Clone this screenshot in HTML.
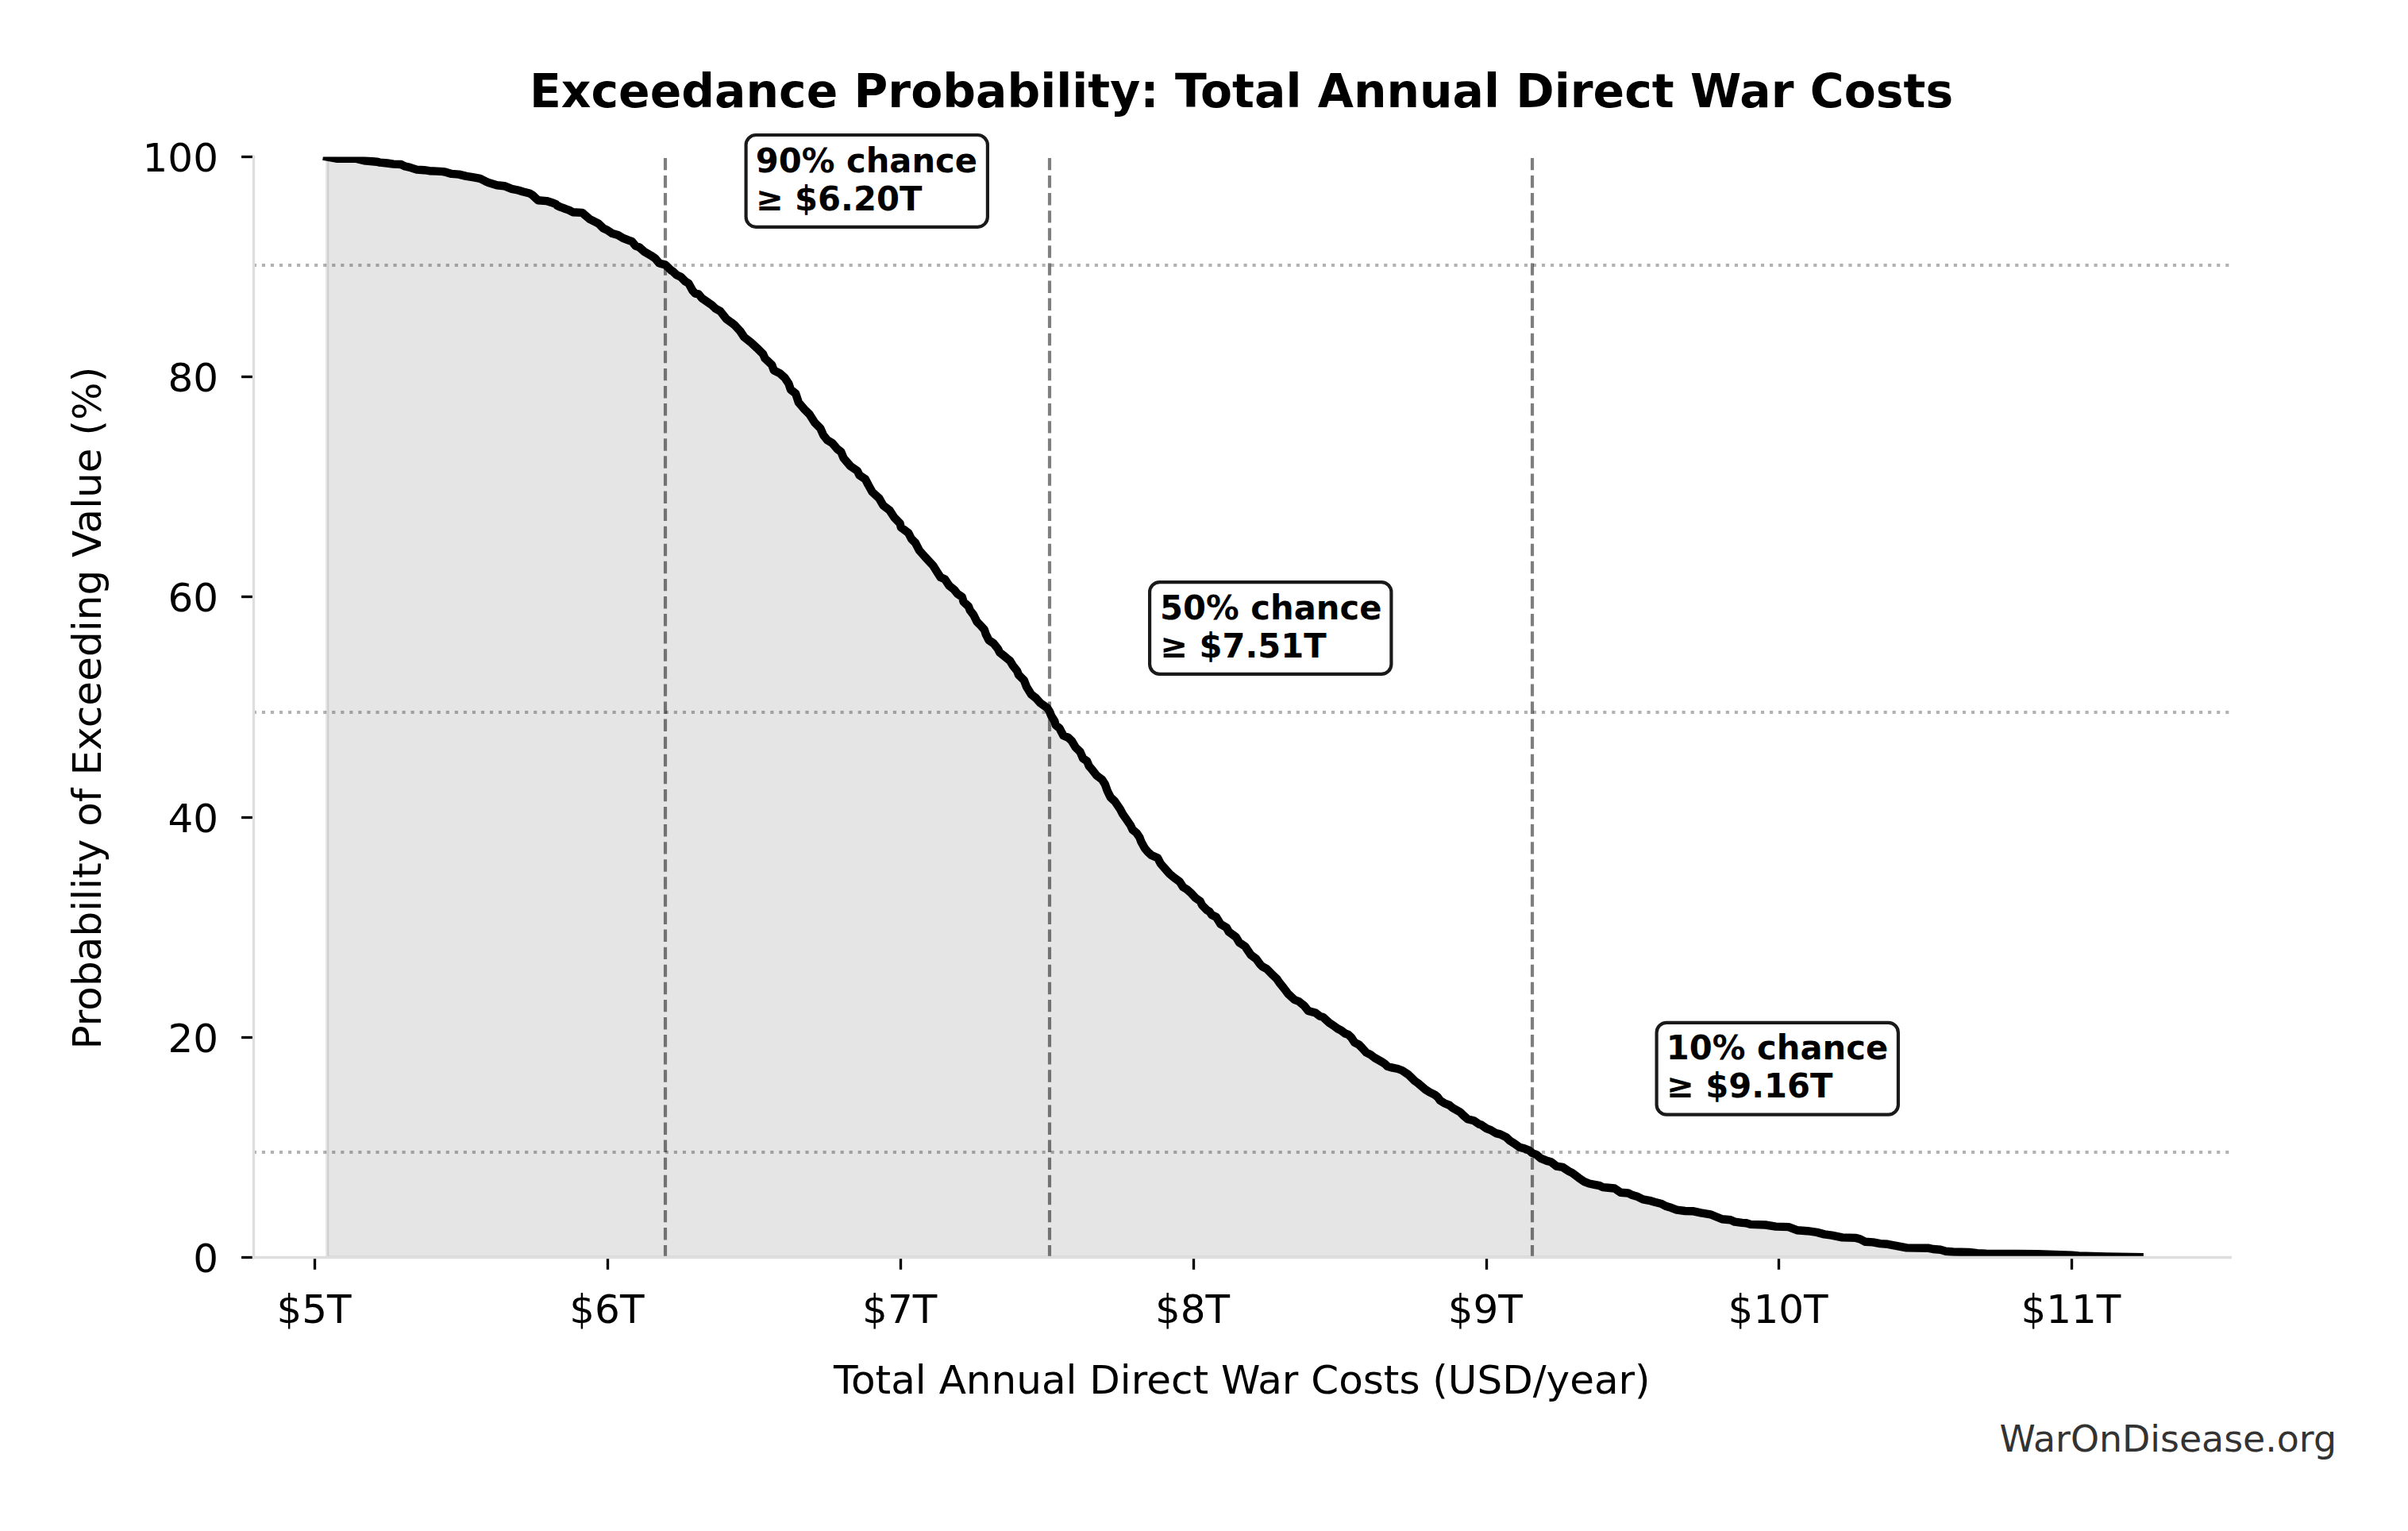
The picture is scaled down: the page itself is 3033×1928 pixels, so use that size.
<!DOCTYPE html>
<html lang="en"><head><meta charset="utf-8"><title>Exceedance Probability: Total Annual Direct War Costs</title>
<style>
html,body{margin:0;padding:0;background:#fff;}
body{width:3033px;height:1928px;overflow:hidden;}
svg{display:block;}
text{font-family:'DejaVu Sans','Liberation Sans',sans-serif;fill:#000;}
.t{font-size:50px;}
.b{font-size:41.67px;font-weight:bold;}
</style></head><body>
<svg width="3033" height="1928" viewBox="0 0 3033 1928">
<defs><clipPath id="ax"><rect x="319.5" y="197.5" width="2491.5" height="1386.0"/></clipPath></defs>
<rect width="3033" height="1928" fill="#fff"/>
<g clip-path="url(#ax)">
<polygon points="412.2,197.5 423.9,199.7 449.2,199.9 458.5,202.3 474.4,203.7 478.4,204.6 487.7,205.5 495.7,206.6 505.0,207.0 510.3,209.5 515.6,210.6 524.9,213.6 534.2,214.2 540.9,215.2 550.2,215.6 558.1,216.1 562.1,216.9 568.8,218.9 578.1,219.6 587.4,221.9 595.3,223.2 604.7,224.9 611.3,228.2 615.3,230.0 625.9,233.2 635.2,234.2 644.5,237.9 652.5,239.5 659.1,241.5 667.1,243.5 670.4,245.4 677.7,252.3 688.4,253.1 696.3,255.5 700.4,257.3 701.7,258.8 704.8,260.3 709.2,261.9 712.3,263.1 716.7,264.6 721.6,267.3 733.5,267.9 736.7,270.8 742.6,275.8 748.6,278.8 754.0,281.6 759.9,287.5 764.8,289.7 771.3,294.1 778.3,296.1 784.2,299.6 791.2,302.4 796.1,304.2 800.4,309.6 805.3,311.3 811.2,316.7 815.1,319.0 819.8,321.7 825.2,325.3 830.1,331.2 832.3,332.0 837.7,333.4 840.4,335.6 845.2,340.4 847.5,341.7 852.2,346.3 857.6,348.8 863.0,354.2 867.4,356.9 872.2,365.8 875.6,369.6 879.8,370.3 884.1,375.5 890.6,380.1 897.0,384.5 901.1,388.4 907.4,392.1 915.0,401.8 921.2,406.2 925.6,409.7 932.3,417.0 937.3,424.5 946.0,431.4 953.5,438.3 961.0,445.7 963.5,451.3 972.2,459.5 974.7,466.3 982.2,470.1 988.4,475.7 993.4,483.2 995.9,490.6 1002.2,495.6 1005.9,506.9 1013.4,515.6 1019.6,521.8 1025.9,531.8 1033.3,539.3 1037.1,548.0 1042.1,554.3 1048.3,558.0 1055.0,565.8 1059.3,569.0 1062.5,576.8 1071.2,587.0 1079.9,593.0 1082.4,598.3 1089.9,603.3 1093.6,610.5 1098.6,619.5 1107.4,627.6 1112.3,636.3 1120.5,642.6 1126.1,651.3 1133.6,659.1 1134.8,664.1 1144.2,671.2 1147.9,678.5 1152.9,683.5 1157.9,693.1 1165.4,701.6 1175.3,712.2 1180.3,720.3 1184.7,727.1 1190.3,729.6 1195.6,737.7 1201.8,742.5 1205.6,747.4 1211.8,751.8 1213.7,758.0 1219.9,763.7 1221.8,768.6 1226.2,774.3 1230.5,783.0 1234.9,787.4 1239.9,793.0 1241.7,798.6 1245.5,806.1 1251.7,810.4 1256.7,816.7 1259.2,821.7 1265.4,826.6 1272.3,832.3 1276.0,838.5 1281.0,844.7 1282.9,849.7 1289.8,856.6 1292.9,864.7 1299.1,874.7 1304.7,879.0 1310.3,885.3 1319.1,891.5 1321.6,895.3 1324.3,901.8 1328.3,908.1 1329.7,913.2 1334.3,916.8 1339.3,926.2 1345.5,928.9 1349.9,933.0 1354.7,941.1 1360.5,946.8 1364.0,954.9 1369.2,958.6 1371.7,964.8 1375.1,968.6 1381.3,976.7 1388.0,981.7 1391.7,987.3 1394.8,996.0 1398.8,1004.1 1404.2,1009.1 1411.0,1019.1 1414.2,1025.3 1419.1,1032.2 1423.8,1039.1 1426.6,1044.9 1431.6,1049.0 1435.4,1054.7 1437.5,1060.3 1441.8,1068.1 1446.0,1073.1 1450.4,1077.0 1458.3,1080.6 1461.9,1087.6 1468.6,1095.2 1473.2,1100.5 1478.9,1105.2 1485.8,1110.2 1490.2,1117.1 1495.1,1120.1 1500.5,1124.9 1505.8,1130.8 1511.5,1134.7 1514.2,1140.0 1519.7,1145.7 1523.5,1148.0 1526.1,1152.0 1532.0,1155.0 1537.4,1163.7 1544.7,1167.9 1547.9,1173.6 1556.7,1179.9 1560.9,1186.9 1568.2,1191.8 1575.5,1202.5 1582.2,1207.5 1587.2,1214.4 1589.9,1217.1 1595.5,1220.1 1601.7,1226.4 1608.1,1232.5 1611.4,1237.4 1616.1,1243.1 1620.3,1248.7 1622.3,1251.4 1630.5,1259.0 1635.8,1261.0 1642.5,1266.3 1647.8,1273.0 1657.1,1275.6 1662.4,1279.6 1666.4,1280.9 1674.4,1288.2 1679.7,1291.6 1685.0,1295.5 1689.0,1297.5 1694.3,1301.5 1698.3,1302.9 1702.3,1306.8 1706.2,1312.8 1711.6,1315.5 1715.5,1319.5 1720.9,1325.4 1726.2,1328.1 1731.5,1332.1 1740.8,1337.4 1744.8,1340.1 1747.4,1342.7 1754.1,1344.7 1760.7,1346.0 1766.0,1348.0 1774.0,1353.4 1782.0,1361.3 1786.0,1364.0 1795.3,1372.0 1800.6,1375.3 1807.2,1378.6 1810.6,1381.3 1813.9,1385.9 1819.2,1389.2 1825.8,1391.9 1829.8,1395.2 1839.1,1400.5 1843.1,1404.5 1848.4,1409.2 1856.4,1411.2 1863.1,1415.8 1865.7,1416.5 1872.4,1421.1 1877.7,1423.1 1884.3,1427.1 1889.6,1428.4 1897.6,1432.4 1902.0,1436.7 1907.3,1440.0 1914.0,1444.7 1920.6,1446.6 1925.9,1448.6 1929.9,1452.0 1935.2,1454.0 1940.5,1458.6 1948.5,1461.9 1953.8,1463.3 1960.5,1468.6 1968.4,1469.9 1972.4,1472.6 1976.4,1475.2 1980.4,1477.2 1988.4,1483.2 1995.0,1487.8 2001.7,1490.5 2008.3,1491.8 2015.0,1493.2 2018.9,1495.1 2025.6,1495.8 2033.6,1496.5 2041.5,1501.8 2050.8,1502.5 2056.1,1505.1 2062.8,1507.1 2069.4,1510.4 2077.4,1511.8 2084.1,1513.8 2092.0,1515.7 2098.7,1519.1 2105.3,1521.1 2112.0,1523.7 2122.5,1525.0 2133.1,1525.3 2142.4,1527.3 2154.4,1529.3 2161.0,1532.0 2169.0,1535.3 2179.6,1536.3 2184.9,1538.6 2194.2,1539.9 2199.6,1540.2 2204.9,1541.9 2223.5,1542.5 2236.8,1544.6 2252.8,1545.1 2263.4,1549.2 2276.7,1550.2 2288.6,1551.9 2297.9,1554.4 2307.2,1555.7 2320.5,1558.4 2337.8,1558.9 2343.1,1560.5 2349.1,1563.7 2359.1,1564.4 2368.4,1566.1 2377.7,1566.8 2388.3,1568.8 2401.6,1571.4 2429.5,1571.8 2434.8,1573.0 2444.1,1573.8 2450.8,1575.7 2460.1,1576.5 2478.7,1577.0 2480.0,1577.0 2490.8,1578.1 2501.6,1578.6 2566.4,1579.2 2609.6,1580.8 2618.2,1581.5 2652.7,1582.4 2694.6,1583.2 2694.6,1583.5 412.2,1583.5" fill="#000" fill-opacity="0.1" stroke="#000" stroke-opacity="0.1" stroke-width="4.1667" stroke-linejoin="miter"/>

<line x1="318.8" y1="334.0" x2="2811.0" y2="334.0" stroke="#000" stroke-opacity="0.3" stroke-width="4.1667" stroke-dasharray="4.1667 6.875"/>
<line x1="318.8" y1="897.0" x2="2811.0" y2="897.0" stroke="#000" stroke-opacity="0.3" stroke-width="4.1667" stroke-dasharray="4.1667 6.875"/>
<line x1="318.8" y1="1451.0" x2="2811.0" y2="1451.0" stroke="#000" stroke-opacity="0.3" stroke-width="4.1667" stroke-dasharray="4.1667 6.875"/>
<line x1="838.0" y1="1583.5" x2="838.0" y2="197.5" stroke="#000" stroke-opacity="0.5" stroke-width="4.1667" stroke-dasharray="15.4167 6.6667"/>
<line x1="1322.0" y1="1583.5" x2="1322.0" y2="197.5" stroke="#000" stroke-opacity="0.5" stroke-width="4.1667" stroke-dasharray="15.4167 6.6667"/>
<line x1="1930.0" y1="1583.5" x2="1930.0" y2="197.5" stroke="#000" stroke-opacity="0.5" stroke-width="4.1667" stroke-dasharray="15.4167 6.6667"/>
<polyline points="412.2,197.5 423.9,199.7 449.2,199.9 458.5,202.3 474.4,203.7 478.4,204.6 487.7,205.5 495.7,206.6 505.0,207.0 510.3,209.5 515.6,210.6 524.9,213.6 534.2,214.2 540.9,215.2 550.2,215.6 558.1,216.1 562.1,216.9 568.8,218.9 578.1,219.6 587.4,221.9 595.3,223.2 604.7,224.9 611.3,228.2 615.3,230.0 625.9,233.2 635.2,234.2 644.5,237.9 652.5,239.5 659.1,241.5 667.1,243.5 670.4,245.4 677.7,252.3 688.4,253.1 696.3,255.5 700.4,257.3 701.7,258.8 704.8,260.3 709.2,261.9 712.3,263.1 716.7,264.6 721.6,267.3 733.5,267.9 736.7,270.8 742.6,275.8 748.6,278.8 754.0,281.6 759.9,287.5 764.8,289.7 771.3,294.1 778.3,296.1 784.2,299.6 791.2,302.4 796.1,304.2 800.4,309.6 805.3,311.3 811.2,316.7 815.1,319.0 819.8,321.7 825.2,325.3 830.1,331.2 832.3,332.0 837.7,333.4 840.4,335.6 845.2,340.4 847.5,341.7 852.2,346.3 857.6,348.8 863.0,354.2 867.4,356.9 872.2,365.8 875.6,369.6 879.8,370.3 884.1,375.5 890.6,380.1 897.0,384.5 901.1,388.4 907.4,392.1 915.0,401.8 921.2,406.2 925.6,409.7 932.3,417.0 937.3,424.5 946.0,431.4 953.5,438.3 961.0,445.7 963.5,451.3 972.2,459.5 974.7,466.3 982.2,470.1 988.4,475.7 993.4,483.2 995.9,490.6 1002.2,495.6 1005.9,506.9 1013.4,515.6 1019.6,521.8 1025.9,531.8 1033.3,539.3 1037.1,548.0 1042.1,554.3 1048.3,558.0 1055.0,565.8 1059.3,569.0 1062.5,576.8 1071.2,587.0 1079.9,593.0 1082.4,598.3 1089.9,603.3 1093.6,610.5 1098.6,619.5 1107.4,627.6 1112.3,636.3 1120.5,642.6 1126.1,651.3 1133.6,659.1 1134.8,664.1 1144.2,671.2 1147.9,678.5 1152.9,683.5 1157.9,693.1 1165.4,701.6 1175.3,712.2 1180.3,720.3 1184.7,727.1 1190.3,729.6 1195.6,737.7 1201.8,742.5 1205.6,747.4 1211.8,751.8 1213.7,758.0 1219.9,763.7 1221.8,768.6 1226.2,774.3 1230.5,783.0 1234.9,787.4 1239.9,793.0 1241.7,798.6 1245.5,806.1 1251.7,810.4 1256.7,816.7 1259.2,821.7 1265.4,826.6 1272.3,832.3 1276.0,838.5 1281.0,844.7 1282.9,849.7 1289.8,856.6 1292.9,864.7 1299.1,874.7 1304.7,879.0 1310.3,885.3 1319.1,891.5 1321.6,895.3 1324.3,901.8 1328.3,908.1 1329.7,913.2 1334.3,916.8 1339.3,926.2 1345.5,928.9 1349.9,933.0 1354.7,941.1 1360.5,946.8 1364.0,954.9 1369.2,958.6 1371.7,964.8 1375.1,968.6 1381.3,976.7 1388.0,981.7 1391.7,987.3 1394.8,996.0 1398.8,1004.1 1404.2,1009.1 1411.0,1019.1 1414.2,1025.3 1419.1,1032.2 1423.8,1039.1 1426.6,1044.9 1431.6,1049.0 1435.4,1054.7 1437.5,1060.3 1441.8,1068.1 1446.0,1073.1 1450.4,1077.0 1458.3,1080.6 1461.9,1087.6 1468.6,1095.2 1473.2,1100.5 1478.9,1105.2 1485.8,1110.2 1490.2,1117.1 1495.1,1120.1 1500.5,1124.9 1505.8,1130.8 1511.5,1134.7 1514.2,1140.0 1519.7,1145.7 1523.5,1148.0 1526.1,1152.0 1532.0,1155.0 1537.4,1163.7 1544.7,1167.9 1547.9,1173.6 1556.7,1179.9 1560.9,1186.9 1568.2,1191.8 1575.5,1202.5 1582.2,1207.5 1587.2,1214.4 1589.9,1217.1 1595.5,1220.1 1601.7,1226.4 1608.1,1232.5 1611.4,1237.4 1616.1,1243.1 1620.3,1248.7 1622.3,1251.4 1630.5,1259.0 1635.8,1261.0 1642.5,1266.3 1647.8,1273.0 1657.1,1275.6 1662.4,1279.6 1666.4,1280.9 1674.4,1288.2 1679.7,1291.6 1685.0,1295.5 1689.0,1297.5 1694.3,1301.5 1698.3,1302.9 1702.3,1306.8 1706.2,1312.8 1711.6,1315.5 1715.5,1319.5 1720.9,1325.4 1726.2,1328.1 1731.5,1332.1 1740.8,1337.4 1744.8,1340.1 1747.4,1342.7 1754.1,1344.7 1760.7,1346.0 1766.0,1348.0 1774.0,1353.4 1782.0,1361.3 1786.0,1364.0 1795.3,1372.0 1800.6,1375.3 1807.2,1378.6 1810.6,1381.3 1813.9,1385.9 1819.2,1389.2 1825.8,1391.9 1829.8,1395.2 1839.1,1400.5 1843.1,1404.5 1848.4,1409.2 1856.4,1411.2 1863.1,1415.8 1865.7,1416.5 1872.4,1421.1 1877.7,1423.1 1884.3,1427.1 1889.6,1428.4 1897.6,1432.4 1902.0,1436.7 1907.3,1440.0 1914.0,1444.7 1920.6,1446.6 1925.9,1448.6 1929.9,1452.0 1935.2,1454.0 1940.5,1458.6 1948.5,1461.9 1953.8,1463.3 1960.5,1468.6 1968.4,1469.9 1972.4,1472.6 1976.4,1475.2 1980.4,1477.2 1988.4,1483.2 1995.0,1487.8 2001.7,1490.5 2008.3,1491.8 2015.0,1493.2 2018.9,1495.1 2025.6,1495.8 2033.6,1496.5 2041.5,1501.8 2050.8,1502.5 2056.1,1505.1 2062.8,1507.1 2069.4,1510.4 2077.4,1511.8 2084.1,1513.8 2092.0,1515.7 2098.7,1519.1 2105.3,1521.1 2112.0,1523.7 2122.5,1525.0 2133.1,1525.3 2142.4,1527.3 2154.4,1529.3 2161.0,1532.0 2169.0,1535.3 2179.6,1536.3 2184.9,1538.6 2194.2,1539.9 2199.6,1540.2 2204.9,1541.9 2223.5,1542.5 2236.8,1544.6 2252.8,1545.1 2263.4,1549.2 2276.7,1550.2 2288.6,1551.9 2297.9,1554.4 2307.2,1555.7 2320.5,1558.4 2337.8,1558.9 2343.1,1560.5 2349.1,1563.7 2359.1,1564.4 2368.4,1566.1 2377.7,1566.8 2388.3,1568.8 2401.6,1571.4 2429.5,1571.8 2434.8,1573.0 2444.1,1573.8 2450.8,1575.7 2460.1,1576.5 2478.7,1577.0 2480.0,1577.0 2490.8,1578.1 2501.6,1578.6 2566.4,1579.2 2609.6,1580.8 2618.2,1581.5 2652.7,1582.4 2694.6,1583.2" fill="none" stroke="#000" stroke-width="10.4167" stroke-linejoin="round" stroke-linecap="square"/>
</g>
<line x1="396.5" y1="1583.5" x2="396.5" y2="1598.8" stroke="#000" stroke-width="3.33"/>
<text class="t" x="395.6" y="1666.4" text-anchor="middle">$5T</text>
<line x1="765.5" y1="1583.5" x2="765.5" y2="1598.8" stroke="#000" stroke-width="3.33"/>
<text class="t" x="764.4" y="1666.4" text-anchor="middle">$6T</text>
<line x1="1134.5" y1="1583.5" x2="1134.5" y2="1598.8" stroke="#000" stroke-width="3.33"/>
<text class="t" x="1133.2" y="1666.4" text-anchor="middle">$7T</text>
<line x1="1503.5" y1="1583.5" x2="1503.5" y2="1598.8" stroke="#000" stroke-width="3.33"/>
<text class="t" x="1502.0" y="1666.4" text-anchor="middle">$8T</text>
<line x1="1872.5" y1="1583.5" x2="1872.5" y2="1598.8" stroke="#000" stroke-width="3.33"/>
<text class="t" x="1870.8" y="1666.4" text-anchor="middle">$9T</text>
<line x1="2240.5" y1="1583.5" x2="2240.5" y2="1598.8" stroke="#000" stroke-width="3.33"/>
<text class="t" x="2239.6" y="1666.4" text-anchor="middle">$10T</text>
<line x1="2609.5" y1="1583.5" x2="2609.5" y2="1598.8" stroke="#000" stroke-width="3.33"/>
<text class="t" x="2608.4" y="1666.4" text-anchor="middle">$11T</text>
<line x1="319.5" y1="1583.5" x2="304.1" y2="1583.5" stroke="#000" stroke-width="3.33"/>
<text class="t" x="275" y="1602.4" text-anchor="end">0</text>
<line x1="319.5" y1="1306.5" x2="304.1" y2="1306.5" stroke="#000" stroke-width="3.33"/>
<text class="t" x="275" y="1325.2" text-anchor="end">20</text>
<line x1="319.5" y1="1029.5" x2="304.1" y2="1029.5" stroke="#000" stroke-width="3.33"/>
<text class="t" x="275" y="1048.0" text-anchor="end">40</text>
<line x1="319.5" y1="751.5" x2="304.1" y2="751.5" stroke="#000" stroke-width="3.33"/>
<text class="t" x="275" y="769.8" text-anchor="end">60</text>
<line x1="319.5" y1="474.5" x2="304.1" y2="474.5" stroke="#000" stroke-width="3.33"/>
<text class="t" x="275" y="492.7" text-anchor="end">80</text>
<line x1="319.5" y1="197.5" x2="304.1" y2="197.5" stroke="#000" stroke-width="3.33"/>
<text class="t" x="275" y="216.4" text-anchor="end">100</text>
<line x1="319.5" y1="195.83" x2="319.5" y2="1585.17" stroke="#dedede" stroke-width="3.33"/>
<line x1="317.83" y1="1583.5" x2="2811.0" y2="1583.5" stroke="#dedede" stroke-width="3.33"/>
<text x="1563.6" y="135" text-anchor="middle" style="font-size:58.33px;font-weight:bold;letter-spacing:0.03px">Exceedance Probability: Total Annual Direct War Costs</text>
<text class="t" x="1564.3" y="1755.3" text-anchor="middle">Total Annual Direct War Costs (USD/year)</text>
<text class="t" transform="translate(127.3,891.65) rotate(-90)" text-anchor="middle" style="letter-spacing:0.04px">Probability of Exceeding Value (%)</text>
<text x="2943" y="1828.2" text-anchor="end" style="font-size:45.83px;fill:#333">WarOnDisease.org</text>
<rect x="939.6" y="170.0" width="304.3" height="115.8" rx="12.5" ry="12.5" fill="#fff" stroke="#1a1a1a" stroke-width="4.1667"/>
<text class="b" transform="translate(951.7,216.8) scale(1,1.033)">90% chance</text>
<text class="b" transform="translate(951.7,265.0) scale(1,1.033)">≥ $6.20T</text>
<rect x="1448.1" y="733.1" width="304.3" height="115.8" rx="12.5" ry="12.5" fill="#fff" stroke="#1a1a1a" stroke-width="4.1667"/>
<text class="b" transform="translate(1461.1,779.7) scale(1,1.033)">50% chance</text>
<text class="b" transform="translate(1461.1,828.3) scale(1,1.033)">≥ $7.51T</text>
<rect x="2086.6" y="1287.9" width="304.3" height="115.8" rx="12.5" ry="12.5" fill="#fff" stroke="#1a1a1a" stroke-width="4.1667"/>
<text class="b" transform="translate(2098.8,1334.1) scale(1,1.033)">10% chance</text>
<text class="b" transform="translate(2098.8,1382.4) scale(1,1.033)">≥ $9.16T</text>
</svg></body></html>
